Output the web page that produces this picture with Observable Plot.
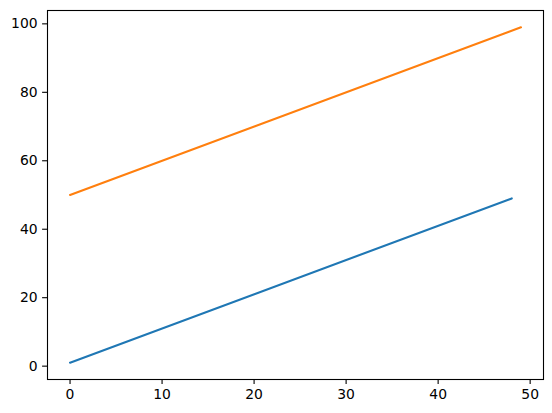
<!DOCTYPE html>
<html>
<head>
<meta charset="utf-8">
<script src="https://cdn.jsdelivr.net/npm/d3@7"></script>
<script src="https://cdn.jsdelivr.net/npm/@observablehq/plot@0.6"></script>
<style>
  html, body { margin: 0; padding: 0; background: #fff; }
</style>
</head>
<body>
<div id="chart"></div>
<script>
// Series (straight lines, endpoints)
const blueX = [0, 48];
const blueY = [1, 49];
const orangeX = [0, 49];
const orangeY = [50, 99];
const xTicks = [0, 10, 20, 30, 40, 50];
const yTicks = [0, 20, 40, 60, 80, 100];

const blue = blueX.map((x, i) => ({x, y: blueY[i]}));
const orange = orangeX.map((x, i) => ({x, y: orangeY[i]}));

const chart = Plot.plot({
  width: 552,
  height: 413,
  marginLeft: 47,
  marginRight: 9,
  marginTop: 10,
  marginBottom: 34,
  style: {fontFamily: "DejaVu Sans", fontSize: "13.9px", color: "#000", background: "#fff", overflow: "visible"},
  x: {domain: [-2.45, 51.45]},
  y: {domain: [-3.9, 103.9]},
  marks: [
    Plot.axisX({ticks: xTicks, tickSize: 4.9, tickPadding: 5, label: null, fontSize: 13.9, stroke: "#000", strokeWidth: 1.1, strokeOpacity: 1}),
    Plot.axisY({ticks: yTicks, tickSize: 4.9, tickPadding: 5, label: null, fontSize: 13.9, stroke: "#000", strokeWidth: 1.1, strokeOpacity: 1}),
    Plot.lineY(blue, {x: "x", y: "y", stroke: "#1f77b4", strokeWidth: 2.1}),
    Plot.lineY(orange, {x: "x", y: "y", stroke: "#ff7f0e", strokeWidth: 2.1}),
    Plot.frame({stroke: "#000", strokeWidth: 1.1})
  ]
});
document.getElementById("chart").appendChild(chart);
</script>
</body>
</html>
